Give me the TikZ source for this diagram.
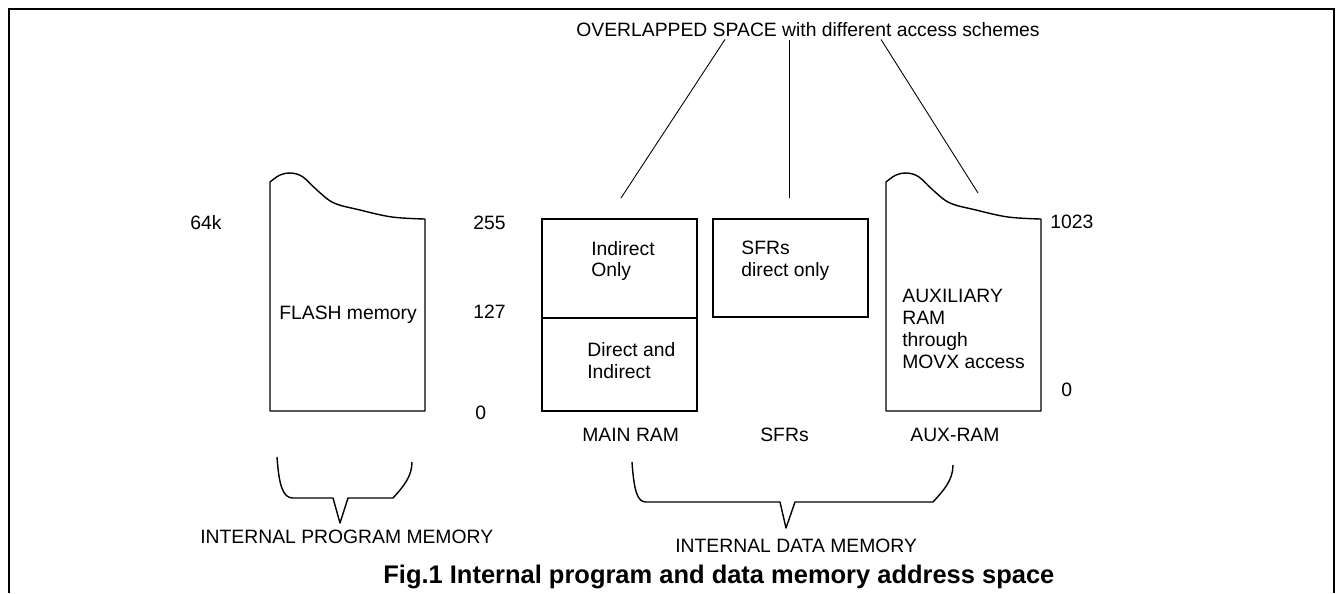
\documentclass[tikz,border=0pt]{standalone}
\usepackage{fontspec}
\setmainfont{Liberation Sans}
\usetikzlibrary{positioning,calc}

\begin{document}
\begin{tikzpicture}[
	x=0.02cm, y=-0.02cm,
	frame/.style   = {draw, line width=1.3pt},
	block/.style   = {draw, line width=0.8pt, rectangle, inner sep=0pt, outer sep=0pt, minimum width=3.1cm},
	memshape/.style= {draw, line width=0.8pt, line join=round},
	brace/.style   = {draw, line width=0.8pt, line join=round},
	pointer/.style = {draw, line width=0.5pt},
	txt/.style     = {font=\fontsize{11}{12.5}\selectfont, inner sep=0pt, align=left, anchor=west},
	figcap/.style  = {font=\bfseries\fontsize{14.5}{16}\selectfont, inner sep=0pt, anchor=west}]
	
	\useasboundingbox (0,0) rectangle (1336,593);
	
	% outer frame, open at the bottom
	\draw[frame] (9,593) -- (9,9) -- (1334,9) -- (1334,593);
	
	% FLASH and AUX-RAM, same outline
	\foreach \dx in {0,616}
	\draw[memshape, shift={(\dx,0)}] (270,411) -- plot[smooth, tension=0.6] coordinates {(270,182) (280,175) (291,173) (303,177) (318,191) (334,203) (360,210) (392,217) (425,219)} -- (425,411) -- cycle;
	
	% main RAM, two halves
	\node[block, minimum height=1.98cm, anchor=north west] (ramhi) at (542,219) {};
	\node[block, minimum height=1.86cm, below=0pt of ramhi] (ramlo) {};
	% SFR block
	\node[block, minimum height=1.96cm, right=0.32cm of ramhi.north east, anchor=north west] (sfr) {};
	
	% texts inside the blocks
	\node[txt] (flashtxt) at (279,315) {FLASH memory};
	\node[txt] (indtxt) at (591,261) {Indirect\\Only};
	\node[txt] (dirtxt) at (587,361) {Direct and\\Indirect};
	\node[txt] (sfrtxt) at (741,261) {SFRs\\direct only};
	\node[txt] (auxtxt) at (902,329) {AUXILIARY\\RAM\\through\\MOVX access};
	
	% address marks
	\node[txt] (a64k) at (190,223) {64k};
	\node[txt] (a255) at (473,223) {255};
	\node[txt] (a127) at (473,312) {127};
	\node[txt] (a0) at (475,413) {0};
	\node[txt] (a1023) at (1050,222) {1023};
	\node[txt] (aux0) at (1061,390) {0};
	
	% names below the columns
	\node[txt] (mainname) at (582,435) {MAIN RAM};
	\node[txt] (sfrname) at (760,435) {SFRs};
	\node[txt] (auxname) at (910,435) {AUX-RAM};
	
	% braces
	\draw[brace] (277,457) .. controls (279,486) and (283,498) .. (293,498) -- (333,498) -- (340,523) -- (348,498) -- (393,498) .. controls (404,486) and (412,476) .. (412,462);
	\draw[brace] (632,462) .. controls (634,490) and (637,502) .. (646,502) -- (780,502) -- (786,528) -- (795,502) -- (933,502) .. controls (944,490) and (953,480) .. (953,465);
	
	\node[txt] (progmem) at (200,537) {INTERNAL PROGRAM MEMORY};
	\node[txt] (datamem) at (675,546) {INTERNAL DATA MEMORY};
	
	% overlapped space and its pointers
	\node[txt] (overlap) at (576,30) {OVERLAPPED SPACE with different access schemes};
	\coordinate (ptrmain) at (621,198);
	\coordinate (ptrsfr) at (789,198);
	\coordinate (ptraux) at (978,193);
	\draw[pointer] ($(overlap.south west)+(149,2)$) -- (ptrmain);
	\draw[pointer] ($(overlap.south west)+(213,3)$) -- (ptrsfr);
	\draw[pointer] ($(overlap.south west)+(305,2)$) -- (ptraux);
	
	\node[figcap] (fig) at (383,577) {Fig.1 Internal program and data memory address space};
	
\end{tikzpicture}
\end{document}
